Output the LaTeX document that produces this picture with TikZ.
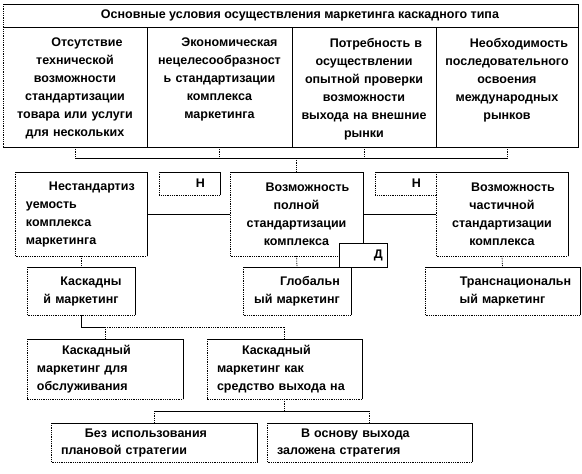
\documentclass[tikz,border=0pt]{standalone}
\usepackage{fontspec}
\setmainfont{Liberation Sans}
\newcommand\mkbox[5]{\node[boxshape, minimum width={#4-#2}, minimum height={#5-#3}] (#1) at ({(#2+#4)/2},{(#3+#5)/2}) {};}
\newcommand\frm[1]{\draw[solidedge] (#1.south east) -- (#1.north east) -- (#1.north west);
  \draw[dotedge] (#1.north west) -- (#1.south west) -- (#1.south east);}
\begin{document}
\begin{tikzpicture}[x=1pt,y=-1pt,
  lbl/.style={font=\bfseries\fontsize{12.5}{18}\selectfont, inner sep=0pt},
  boxshape/.style={draw=none, fill=white, rectangle, inner sep=0pt, outer sep=0pt},
  solidedge/.style={line width=0.8pt},
  dotedge/.style={line width=0.8pt, densely dotted},
  link/.style={line width=0.8pt},
  dotlink/.style={line width=0.8pt, densely dotted}]
\useasboundingbox (0,0) rectangle (582,474);

% top frame
\mkbox{ttl}{3}{4}{578}{27}
\mkbox{c1}{3}{27}{147}{147}
\mkbox{c2}{147}{27}{292}{147}
\mkbox{c3}{292}{27}{436}{147}
\mkbox{c4}{436}{27}{578}{147}
\draw[solidedge] (ttl.north west) -- (ttl.north east) -- (c4.south east) -- (c1.south west);
\draw[dotedge] (c1.south west) -- (ttl.north west);
\draw[solidedge] (ttl.south west) -- (ttl.south east);
\draw[solidedge] (c1.north east) -- (c1.south east);
\draw[solidedge] (c2.north east) -- (c2.south east);
\draw[solidedge] (c3.north east) -- (c3.south east);

\node[lbl] (ttlt) at (300,15.5) {Основные условия осуществления маркетинга каскадного типа};
\node[lbl, anchor=north, text width=140pt, align=center] (c1t) at (75,38) {\hspace*{24pt}Отсутствие\\технической\\возможности\\стандартизации\\товара или услуги\\для нескольких};
\node[lbl, anchor=north, text width=140pt, align=center] (c2t) at (219.5,38) {\hspace*{20pt}Экономическая\\нецелесообразност\\ь стандартизации\\комплекса\\маркетинга};
\node[lbl, anchor=north, text width=140pt, align=center] (c3t) at (364,38) {\hspace*{24pt}Потребность в\\осуществлении\\опытной проверки\\возможности\\выхода на внешние\\рынки};
\node[lbl, anchor=north, text width=140pt, align=center] (c4t) at (507,38) {\hspace*{24pt}Необходимость\\последовательного\\освоения\\международных\\рынков};

% row 2
\mkbox{nst}{15}{172}{147}{256}\frm{nst}
\mkbox{n1}{159}{172}{220}{195}\frm{n1}
\mkbox{vpol}{230}{172}{363}{256}\frm{vpol}
\mkbox{n2}{375}{172}{436}{195}\frm{n2}
\mkbox{vch}{436}{172}{568}{256}\frm{vch}
\mkbox{dd}{339}{243}{387}{267}
\draw[solidedge] (dd.south west) rectangle (dd.north east);

\node[lbl, text width=110pt, align=left] (nstt) at (nst.center) {\hspace*{23pt}Нестандартиз\\уемость\\комплекса\\маркетинга};
\node[lbl, text width=125pt, align=center] (vpolt) at (vpol.center) {\hspace*{22pt}Возможность\\полной\\стандартизации\\комплекса};
\node[lbl, text width=125pt, align=center] (vcht) at (vch.center) {\hspace*{22pt}Возможность\\частичной\\стандартизации\\комплекса};
\node[lbl, anchor=east] (n1t) at ([xshift=-15pt]n1.east) {Н};
\node[lbl, anchor=east] (n2t) at ([xshift=-15pt]n2.east) {Н};
\node[lbl, anchor=east] (ddt) at ([xshift=-4pt]dd.east) {Д};

% row 3
\mkbox{kask}{27}{267}{135}{315}\frm{kask}
\mkbox{glob}{243}{267}{351}{315}\frm{glob}
\mkbox{trans}{425}{267}{580}{315}\frm{trans}
\node[lbl, text width=105pt, align=center] (kaskt) at (kask.center) {\hspace*{20pt}Каскадны\\й маркетинг};
\node[lbl, text width=105pt, align=center] (globt) at (glob.center) {\hspace*{26pt}Глобальн\\ый маркетинг};
\node[lbl, text width=150pt, align=center] (transt) at (trans.center) {\hspace*{26pt}Транснациональн\\ый маркетинг};

% row 4
\mkbox{kd}{27}{339}{183}{399}\frm{kd}
\mkbox{km}{207}{339}{362}{399}\frm{km}
\node[lbl, text width=136pt, align=left] (kdt) at (kd.center) {\hspace*{25pt}Каскадный\\маркетинг для\\обслуживания};
\node[lbl, text width=135pt, align=left] (kmt) at (km.center) {\hspace*{25pt}Каскадный\\маркетинг как\\средство выхода на};

% row 5
\mkbox{bez}{51}{423}{257}{462}\frm{bez}
\mkbox{osn}{267}{423}{472}{462}\frm{osn}
\node[lbl, text width=186pt, align=left, font=\bfseries\fontsize{12.5}{17}\selectfont] (bezt) at (bez.center) {\hspace*{24pt}Без использования\\плановой стратегии};
\node[lbl, text width=185pt, align=left, font=\bfseries\fontsize{12.5}{17}\selectfont] (osnt) at (osn.center) {\hspace*{24pt}В основу выхода\\заложена стратегия};

% connectors: top bracket
\path (c1.south) ++(0,11) coordinate (t1);
\coordinate (t2) at (c2.south |- t1);
\coordinate (t3) at (c3.south |- t1);
\coordinate (t4) at (c4.south |- t1);
\coordinate (tm) at (vpol.north |- t1);
\draw[dotlink] (c1.south) -- (t1);
\draw[dotlink] (c2.south) -- (t2);
\draw[dotlink] (c3.south) -- (t3);
\draw[dotlink] (c4.south) -- (t4);
\draw[link] (t1) -- (t4);
\draw[dotlink] (tm) -- (vpol.north);

% row 2 links
\draw[link] (nst.east) -- (vpol.west);
\draw[link] (vpol.east) -- (vch.west);
\draw[dotlink] (nst.south) -- (kask.north);
\draw[dotlink] (vpol.south) -- (glob.north);
\draw[dotlink] (vch.south) -- (trans.north);

% row 3 -> 4
\path (kask.south) ++(0,12) coordinate (k1);
\coordinate (k2) at (kd.north |- k1);
\coordinate (k3) at (km.north |- k1);
\draw[link] (kask.south) -- (k1) -- (k2);
\draw[dotlink] (k2) -- (k3);
\draw[dotlink] (k2) -- (kd.north);
\draw[dotlink] (k3) -- (km.north);

% row 4 -> 5
\path (km.south) ++(0,12) coordinate (m1);
\coordinate (m2) at (bez.north |- m1);
\coordinate (m3) at (osn.north |- m1);
\draw[dotlink, line width=1.3pt] (km.south) -- (m1);
\draw[link] (m2) -- (m3);
\draw[dotlink] (m2) -- (bez.north);
\draw[dotlink] (m3) -- (osn.north);
\end{tikzpicture}
\end{document}
